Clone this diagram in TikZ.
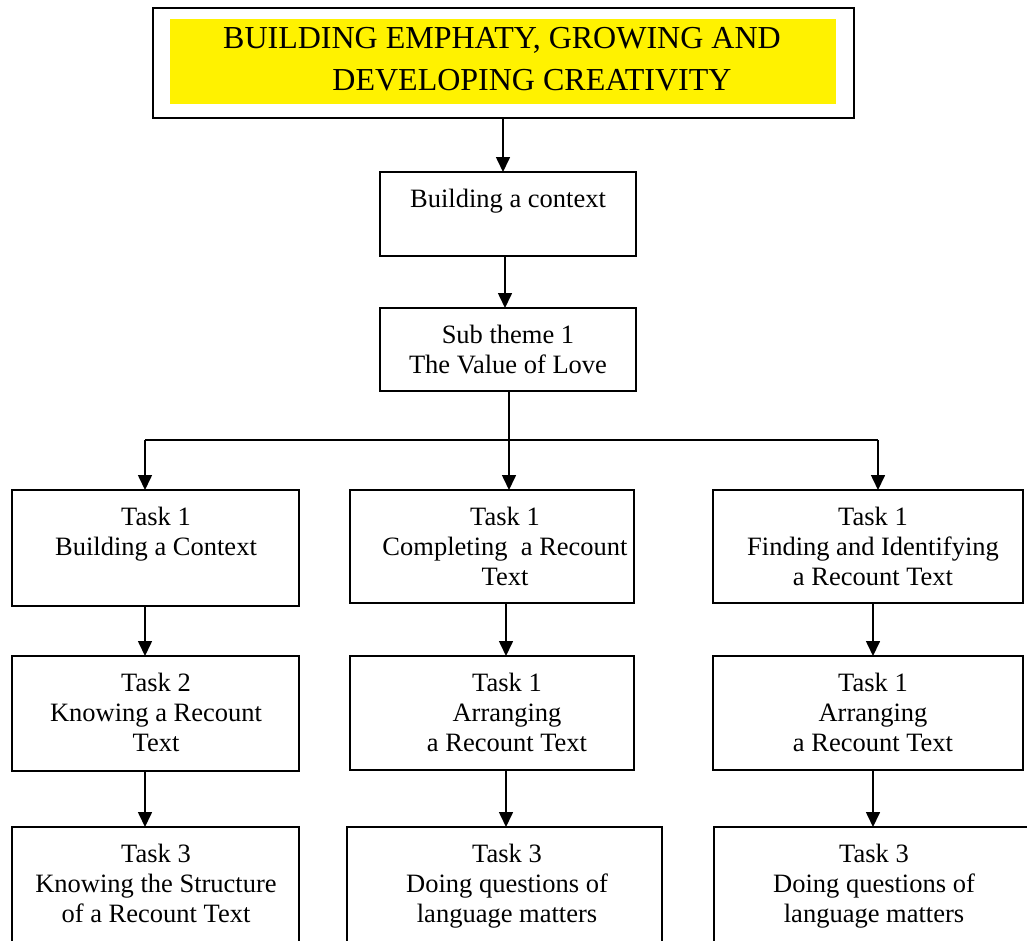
\documentclass[tikz,border=0pt]{standalone}
\usepackage{fontspec}
\setmainfont{Liberation Serif}
\usetikzlibrary{arrows.meta}
\newcommand\bodysz{\fontsize{26.5}{30}\selectfont}
\newcommand\titlesz{\fontsize{32}{42}\selectfont}
\tikzset{
  boxnode/.style={draw=black, line width=1.5pt, inner sep=0pt, outer sep=0pt, fill=white},
  txtnode/.style={inner sep=0pt, outer sep=0pt, align=center, anchor=north, font=\bodysz},
  conn/.style={draw=black, line width=1.6pt},
  arr/.style={conn, -{Triangle[length=15pt,width=14pt]}},
}
\begin{document}
\begin{tikzpicture}[x=1pt,y=-1pt]
\useasboundingbox (0,0) rectangle (1027,940);
\clip (0,0) rectangle (1027,940);
\fill[white] (0,0) rectangle (1027,940);

% title
\node[boxnode, line width=2pt, minimum width=701pt, minimum height=110pt] (top) at (503.5,63) {};
\node[fill=yellow, inner sep=0pt, minimum width=666pt, minimum height=85pt] (yel) at (503,61.5) {};
\node[inner sep=0pt, align=center, anchor=north, font=\titlesz] (title) at (502,18.6)
  {\strut BUILDING EMPHATY, GROWING AND\\\hspace*{60pt}DEVELOPING CREATIVITY};

% context and sub theme
\node[boxnode, minimum width=256pt, minimum height=84pt] (ctx) at (508,214) {};
\node[txtnode] (ctxt) at (508,186) {\strut Building a context};
\node[boxnode, minimum width=256pt, minimum height=83pt] (sub) at (508,349.5) {};
\node[txtnode] (subt) at (508,322) {\strut Sub theme 1\\The Value of Love};

% row 1
\node[boxnode, minimum width=287pt, minimum height=116pt] (aL) at (155.5,548) {};
\node[txtnode] (aLt) at (156,504) {\strut Task 1\\Building a Context};
\node[boxnode, minimum width=284pt, minimum height=113pt] (aM) at (492,546.5) {};
\node[txtnode] (aMt) at (505,504) {\strut Task 1\\Completing\ \ a Recount\\Text};
\node[boxnode, minimum width=310pt, minimum height=113pt] (aR) at (868,546.5) {};
\node[txtnode] (aRt) at (873,504) {\strut Task 1\\Finding and Identifying\\a Recount Text};

% row 2
\node[boxnode, minimum width=287pt, minimum height=115pt] (bL) at (155.5,713.5) {};
\node[txtnode] (bLt) at (156,670) {\strut Task 2\\Knowing a Recount\\Text};
\node[boxnode, minimum width=284pt, minimum height=114pt] (bM) at (492,713) {};
\node[txtnode] (bMt) at (507,670) {\strut Task 1\\Arranging\\a Recount Text};
\node[boxnode, minimum width=310pt, minimum height=114pt] (bR) at (868,713) {};
\node[txtnode] (bRt) at (873,670) {\strut Task 1\\Arranging\\a Recount Text};

% row 3
\node[boxnode, minimum width=287pt, minimum height=130pt] (cL) at (155.5,892) {};
\node[txtnode] (cLt) at (156,841) {\strut Task 3\\Knowing the Structure\\of a Recount Text};
\node[boxnode, minimum width=315pt, minimum height=130pt] (cM) at (504.5,892) {};
\node[txtnode] (cMt) at (507,841) {\strut Task 3\\Doing questions of\\language matters};
\node[boxnode, minimum width=326pt, minimum height=130pt] (cR) at (877,892) {};
\node[txtnode] (cRt) at (874,841) {\strut Task 3\\Doing questions of\\language matters};

% connector columns
\coordinate (xt) at (503,0);
\coordinate (xc) at (505,0);
\coordinate (xl) at (145,0);
\coordinate (xm) at (506,0);
\coordinate (xr) at (873,0);
\coordinate (j) at (509,440);
\coordinate (jl) at (145,440);
\coordinate (jr) at (878,440);

\draw[arr] (top.south -| xt) -- (ctx.north -| xt);
\draw[arr] (ctx.south -| xc) -- (sub.north -| xc);
\draw[conn] (sub.south -| j) -- (j);
\draw[conn] (jl) -- (jr);
\draw[arr] (jl) -- (aL.north -| jl);
\draw[arr] (j) -- (aM.north -| j);
\draw[arr] (jr) -- (aR.north -| jr);

\draw[arr] (aL.south -| xl) -- (bL.north -| xl);
\draw[arr] (aM.south -| xm) -- (bM.north -| xm);
\draw[arr] (aR.south -| xr) -- (bR.north -| xr);
\draw[arr] (bL.south -| xl) -- (cL.north -| xl);
\draw[arr] (bM.south -| xm) -- (cM.north -| xm);
\draw[arr] (bR.south -| xr) -- (cR.north -| xr);
\end{tikzpicture}
\end{document}
